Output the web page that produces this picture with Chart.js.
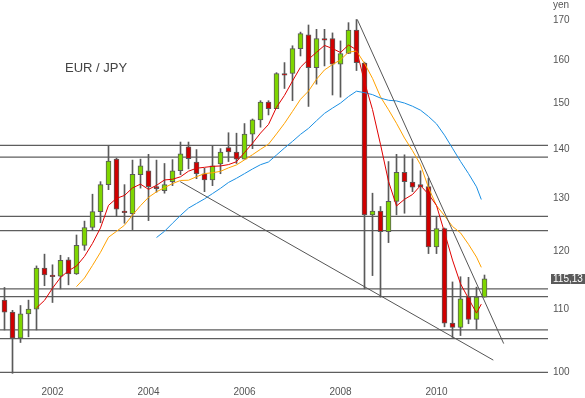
<!DOCTYPE html>
<html><head><meta charset="utf-8">
<script src="https://cdn.jsdelivr.net/npm/chart.js@4"></script>
<style>html,body{margin:0;padding:0;background:#fff;}canvas{display:block;}</style>
</head><body>
<canvas id="c" width="585" height="398"></canvas>
<script>
// Bi-monthly EUR/JPY candles, Jan 2001 .. Jan 2011 (index 0..60)
const opens  = [111.5,109.5,105.3,109.2,110.0,117.0,115.8,115.6,118.5,116.0,121.1,124.4,127.4,132.7,137.9,127.5,127.0,134.7,135.5,132.3,131.5,133.3,135.5,140.5,137.3,134.9,133.65,136.9,140.3,139.4,137.9,143.2,146.3,150.3,148.8,156.9,156.9,162.9,166.3,158.3,165.4,165.4,159.1,161.7,167.5,159.4,126.8,127.5,123.6,129.4,135.2,133.2,132.7,132.3,120.8,124.2,107.7,107.0,112.0,108.3,112.0];
const highs  = [113.65,109.8,110.6,111.5,117.4,119.5,117.6,119.3,118.9,123.0,125.6,130.8,133.3,140.8,138.1,132.7,137.7,137.9,138.9,137.7,137.0,137.8,141.5,141.5,139.9,136.0,140.8,140.1,143.5,143.4,145.5,146.5,150.6,150.6,157.1,159.5,163.6,167.0,168.8,167.7,167.7,166.8,164.8,169.4,170.2,159.6,131.0,128.4,137.4,138.9,138.8,138.0,135.5,134.0,126.5,124.3,114.6,115.5,115.4,113.7,115.8];
const lows   = [106.6,99.85,104.6,105.5,106.6,113.95,111.1,113.4,114.1,115.9,120.2,123.8,125.3,131.7,126.5,125.2,124.0,132.0,125.7,131.2,131.0,132.5,134.7,135.9,133.9,131.3,132.5,134.9,137.4,137.0,137.9,140.1,144.7,147.4,148.8,153.4,150.6,161.1,149.3,154.4,158.7,151.9,151.4,161.7,157.6,113.4,115.7,112.0,121.6,126.8,127.1,131.3,126.7,119.6,119.6,107.1,105.4,105.7,107.6,106.7,112.0];
const closes = [109.5,105.3,109.2,110.0,117.0,115.8,115.5,118.4,116.0,121.1,124.4,127.4,132.7,137.5,127.9,127.2,134.8,136.5,132.3,131.9,132.7,135.5,139.0,138.0,134.9,133.65,136.5,139.4,139.4,137.9,143.2,146.3,150.3,148.8,156.9,156.5,162.9,166.6,158.3,165.4,165.0,159.1,161.7,167.5,159.5,126.8,127.5,123.6,129.4,135.2,133.3,132.2,132.3,120.8,124.2,107.7,107.0,111.7,108.3,112.0,115.13];

// Moving averages (red short, orange medium, blue long)
const maRedStart = 4;
const maRed = [110.2,111.46,113.52,115.36,116.56,117.38,119.1,121.46,124.32,128.62,129.98,130.56,132.04,132.8,131.76,132.56,133.64,133.78,134.28,135.42,136.02,136.21,136.41,136.49,136.77,137.37,139.28,141.24,143.42,145.3,149.1,151.82,155.14,158.4,160.3,162.0,163.68,162.92,161.94,163.78,162.6,154.92,148.6,140.98,133.36,128.5,129.8,130.74,132.52,130.8,128.6,123.48,118.44,114.28,111.78,109.34,110.83];
const maOrangeStart = 9;
const maOrange = [113.79,115.28,117.49,119.84,122.59,123.68,124.83,126.75,128.56,130.19,131.27,132.1,132.91,133.54,133.59,134.29,134.93,135.1,135.39,136.1,136.7,137.75,138.83,139.96,141.04,143.24,145.55,148.19,150.91,152.8,155.55,157.75,159.03,160.17,162.04,162.3,159.3,155.76,151.46,148.57,145.55,142.36,139.67,136.75,132.08,128.55,126.64,124.59,123.4,121.29,118.97,117.15];
const maBlueStart = 19;
const maBlue = [122.53,123.69,125.2,126.69,128.09,128.99,129.88,130.92,131.97,133.14,133.98,134.92,135.87,136.75,137.31,138.76,140.24,141.64,143.15,144.45,146.12,147.75,148.93,150.06,151.54,152.77,152.43,151.98,151.19,150.69,150.55,150.06,149.35,148.46,147.06,145.43,142.97,140.18,137.43,134.93,132.26,129.76];
const latestX = 59.6;      // time position of the latest quote
const lastPrice = 115.13;
const lastPriceText = '115,13';

// Horizontal support / resistance levels
const levels = [140.8,138.3,126.5,123.8,113.4,112.1,106.6,105.2,100];
// Trend lines (x = period index, y = yen)
const trendTop = [{x:44.1,y:170.2},{x:62.4,y:104.43}];
const trendSupport = [{x:21.96,y:133.3},{x:61.1,y:101.86}];

// Axis ticks
const xTickIdx = [6,18,30,42,54];
const xTickLabels = ['2002','2004','2006','2008','2010'];
const yTicks = [100,110,120,130,140,150,160,170];

const GREEN='#7fd600', RED='#d00000', EDGE='#5a5a5a', LINEGREY='#5e5e5e';
const FONT="'Liberation Sans', Arial, sans-serif";
const xMin = -0.5625, xMax = xMin + 548/8;

const idx = closes.map((_, i) => i);
const maPts = (start, arr) => arr.map((v, j) => ({x: (start + j === closes.length - 1) ? latestX : start + j, y: v}));

const datasets = [];
levels.forEach(v => datasets.push({type:'line', data:[{x:xMin,y:v},{x:xMax,y:v}], borderColor:LINEGREY, borderWidth:1.2, pointRadius:0, order:10, clip:false}));
datasets.push({type:'bar', data: idx.map(i => ({x:i, y:[lows[i], highs[i]]})), backgroundColor:EDGE, barThickness:1, grouped:false, order:6});
datasets.push({type:'bar', data: idx.map(i => ({x:i, y:[opens[i], closes[i]]})), backgroundColor: idx.map(i => closes[i] >= opens[i] ? GREEN : RED), borderColor:EDGE, borderWidth:1, borderSkipped:false, barThickness:5, grouped:false, order:5});
datasets.push({type:'line', data: maPts(maBlueStart, maBlue), borderColor:'#1a8fe3', borderWidth:1, pointRadius:0, order:3});
datasets.push({type:'line', data: maPts(maOrangeStart, maOrange), borderColor:'#ffa200', borderWidth:1, pointRadius:0, order:3});
datasets.push({type:'line', data: maPts(maRedStart, maRed), borderColor:'#e00000', borderWidth:1, pointRadius:0, order:2});
datasets.push({type:'line', data: trendTop, borderColor:'#555', borderWidth:1, pointRadius:0, order:1, clip:false});
datasets.push({type:'line', data: trendSupport, borderColor:'#555', borderWidth:1, pointRadius:0, order:1, clip:false});

const annot = {
  id:'annot',
  afterDraw(chart){
    const ctx = chart.ctx, ys = chart.scales.y;
    ctx.save();
    ctx.fillStyle = '#444';
    ctx.font = '13px ' + FONT;
    ctx.textBaseline = 'middle';
    ctx.textAlign = 'left';
    ctx.fillText('EUR / JPY', 65, 68);
    ctx.fillStyle = '#555';
    ctx.font = '10px ' + FONT;
    ctx.textBaseline = 'alphabetic';
    ctx.fillText('yen', 553, 7.5);
    const py = ys.getPixelForValue(lastPrice);
    ctx.fillStyle = '#5a5a5a';
    ctx.fillRect(551, Math.round(py) - 5, 34, 10);
    ctx.fillStyle = '#fff';
    ctx.textBaseline = 'middle';
    ctx.fillText(lastPriceText, 553, Math.round(py) + 0.5);
    ctx.restore();
  }
};

new Chart(document.getElementById('c'), {
  type:'bar',
  data:{datasets},
  plugins:[annot],
  options:{
    responsive:false, animation:false, devicePixelRatio:1,
    layout:{padding:{top:8,left:0,right:0,bottom:0}},
    plugins:{legend:{display:false}, tooltip:{enabled:false}},
    scales:{
      x:{type:'linear', min:xMin, max:xMax, offset:false, grid:{display:false, drawTicks:false}, border:{display:false},
        afterBuildTicks: s => { s.ticks = xTickIdx.map(v => ({value:v})); },
        ticks:{autoSkip:false, maxRotation:0, padding:11, color:'#555', font:{family:FONT, size:10},
          callback: v => { const k = xTickIdx.indexOf(v); return k >= 0 ? xTickLabels[k] : ''; }},
        afterFit: s => { s.height = 23; }
      },
      y:{type:'logarithmic', position:'right', min:99.6, max:172.4, grid:{display:false, drawTicks:false}, border:{display:false},
        afterBuildTicks: s => { s.ticks = yTicks.map(v => ({value:v})); },
        ticks:{padding:5, color:'#555', font:{family:FONT, size:10}, callback: v => yTicks.includes(v) ? String(v) : ''},
        afterFit: s => { s.width = 37; }
      }
    }
  }
});
</script>
</body></html>
